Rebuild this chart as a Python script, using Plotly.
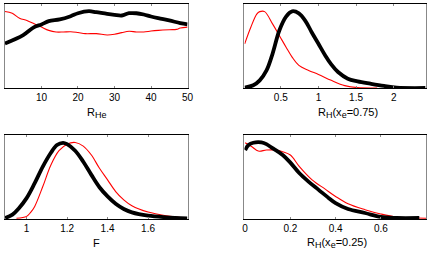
import plotly.graph_objects as go

# Panel 1: R_He
rhe_x_black = [0, 5, 8, 10, 12, 15, 18, 20, 23, 25, 28, 30, 32, 34, 36, 38, 40, 42, 45, 48, 50]
rhe_y_black = [0.53, 0.63, 0.725, 0.757, 0.796, 0.816, 0.855, 0.89, 0.914, 0.902, 0.882, 0.871, 0.863, 0.89, 0.89, 0.875, 0.851, 0.831, 0.804, 0.773, 0.757]
rhe_x_red = [0, 2, 4, 6, 8, 10, 12, 14, 16, 18, 20, 22, 25, 28, 30, 32, 34, 36, 38, 40, 42, 45, 47, 48, 50]
rhe_y_red = [0.91, 0.89, 0.83, 0.804, 0.765, 0.725, 0.686, 0.667, 0.667, 0.67, 0.66, 0.647, 0.647, 0.631, 0.639, 0.659, 0.675, 0.667, 0.667, 0.678, 0.686, 0.694, 0.698, 0.714, 0.725]

# Panel 2: R_H(x_e=0.75)
rh75_x_black = [0.02, 0.134, 0.22, 0.31, 0.39, 0.48, 0.57, 0.65, 0.74, 0.83, 0.91, 1.0, 1.09, 1.17, 1.26, 1.39, 1.52, 1.69, 1.87, 2.04, 2.42]
rh75_y_black = [0.004, 0.032, 0.091, 0.209, 0.407, 0.684, 0.850, 0.913, 0.889, 0.794, 0.664, 0.526, 0.387, 0.281, 0.190, 0.111, 0.079, 0.051, 0.024, 0.004, 0.0]
rh75_x_red = [0.02, 0.1, 0.18, 0.22, 0.285, 0.39, 0.48, 0.57, 0.65, 0.74, 0.87, 1.0, 1.17, 1.35, 1.52, 1.78]
rh75_y_red = [0.526, 0.72, 0.88, 0.909, 0.909, 0.763, 0.625, 0.486, 0.368, 0.269, 0.209, 0.162, 0.091, 0.028, 0.004, 0.0]

# Panel 3: F
f_x_black = [0.894, 0.93, 0.96, 1.0, 1.04, 1.08, 1.12, 1.15, 1.18, 1.2, 1.24, 1.28, 1.32, 1.36, 1.4, 1.44, 1.48, 1.52, 1.6, 1.69, 1.794]
f_y_black = [0.012, 0.051, 0.122, 0.247, 0.424, 0.620, 0.784, 0.875, 0.902, 0.886, 0.808, 0.678, 0.522, 0.376, 0.267, 0.180, 0.118, 0.078, 0.039, 0.020, 0.008]
f_x_red = [0.95, 1.0, 1.02, 1.04, 1.08, 1.12, 1.16, 1.2, 1.24, 1.28, 1.32, 1.36, 1.4, 1.44, 1.48, 1.52, 1.6, 1.69, 1.79]
f_y_red = [0.008, 0.031, 0.078, 0.149, 0.384, 0.639, 0.808, 0.886, 0.906, 0.863, 0.757, 0.600, 0.463, 0.325, 0.227, 0.157, 0.082, 0.039, 0.012]

# Panel 4: R_H(x_e=0.25)
rh25_x_black = [0.0, 0.015, 0.036, 0.072, 0.094, 0.123, 0.166, 0.2, 0.24, 0.28, 0.325, 0.37, 0.4, 0.455, 0.53, 0.6, 0.67, 0.77]
rh25_y_black = [0.816, 0.875, 0.902, 0.906, 0.886, 0.835, 0.757, 0.667, 0.541, 0.443, 0.345, 0.247, 0.188, 0.118, 0.071, 0.024, 0.012, 0.012]
rh25_x_red = [0.0, 0.03, 0.058, 0.094, 0.137, 0.166, 0.2, 0.24, 0.296, 0.354, 0.4, 0.455, 0.53, 0.6, 0.67, 0.8]
rh25_y_red = [0.902, 0.855, 0.804, 0.816, 0.816, 0.796, 0.757, 0.620, 0.463, 0.353, 0.267, 0.180, 0.110, 0.059, 0.024, 0.008]

SUB = "<sub><span style='font-size:9px'>{}</span></sub>"
titles = [
    "R" + SUB.format("He"),
    "R" + SUB.format("H") + "(x" + SUB.format("e") + "=0.75)",
    "F",
    "R" + SUB.format("H") + "(x" + SUB.format("e") + "=0.25)",
]
title_x_px = [96, 352, 96, 341]
title_top_px = [105, 105, 235.5, 235]

W, H = 436, 255
panels = [
    dict(xb=rhe_x_black, yb=rhe_y_black, xr=rhe_x_red, yr=rhe_y_red, rng=[0, 50],
         tv=[10, 20, 30, 40, 50], tt=["10", "20", "30", "40", "50"],
         xd=[3/W, 189/W], yd=[1-88/H, 1-4/H]),
    dict(xb=rh75_x_black, yb=rh75_y_black, xr=rh75_x_red, yr=rh75_y_red, rng=[0.017, 2.43],
         tv=[0.5, 1, 1.5, 2], tt=["0.5", "1", "1.5", "2"],
         xd=[247/W, 432/W], yd=[1-88/H, 1-4/H]),
    dict(xb=f_x_black, yb=f_y_black, xr=f_x_red, yr=f_y_red, rng=[0.893, 1.795],
         tv=[1, 1.2, 1.4, 1.6], tt=["1", "1.2", "1.4", "1.6"],
         xd=[3/W, 189/W], yd=[1-219/H, 1-134.5/H]),
    dict(xb=rh25_x_black, yb=rh25_y_black, xr=rh25_x_red, yr=rh25_y_red, rng=[-0.003, 0.8],
         tv=[0, 0.2, 0.4, 0.6], tt=["0", "0.2", "0.4", "0.6"],
         xd=[247/W, 432/W], yd=[1-219/H, 1-134.5/H]),
]

fig = go.Figure()
layout = dict(width=W, height=H, margin=dict(l=0, r=0, t=0, b=0),
              paper_bgcolor="white", plot_bgcolor="white", showlegend=False,
              font=dict(family="Liberation Sans, Arial, sans-serif", size=10, color="black"))
annotations = []
for i, p in enumerate(panels):
    n = "" if i == 0 else str(i + 1)
    xa, ya = "x" + n, "y" + n
    fig.add_trace(go.Scatter(x=p["xr"], y=p["yr"], mode="lines", line=dict(color="#ff0000", width=1.1, shape="spline"),
                             xaxis=xa, yaxis=ya, hoverinfo="skip"))
    fig.add_trace(go.Scatter(x=p["xb"], y=p["yb"], mode="lines", line=dict(color="black", width=3.8, shape="spline"),
                             xaxis=xa, yaxis=ya, hoverinfo="skip"))
    layout["xaxis" + n] = dict(domain=p["xd"], range=p["rng"], anchor=ya, tickvals=p["tv"], ticktext=p["tt"],
                               showline=True, linecolor="black", linewidth=1, mirror="ticks",
                               ticks="inside", ticklen=2, tickcolor="#888", showgrid=False, zeroline=False,
                               tickfont=dict(size=10))
    layout["yaxis" + n] = dict(domain=p["yd"], range=[0, 1], anchor=xa, showticklabels=False, ticks="",
                               showline=True, linecolor="#888", linewidth=1, mirror=True,
                               showgrid=False, zeroline=False)
    annotations.append(dict(text=titles[i], xref="paper", yref="paper", x=title_x_px[i] / W,
                            y=1 - title_top_px[i] / H, xanchor="center", yanchor="top", showarrow=False,
                            font=dict(size=11), borderpad=0))
layout["annotations"] = annotations
fig.update_layout(**layout)
fig.write_html("out.html", config={"displayModeBar": False},
               post_script="document.body.style.margin='0';document.body.style.overflow='hidden';")
